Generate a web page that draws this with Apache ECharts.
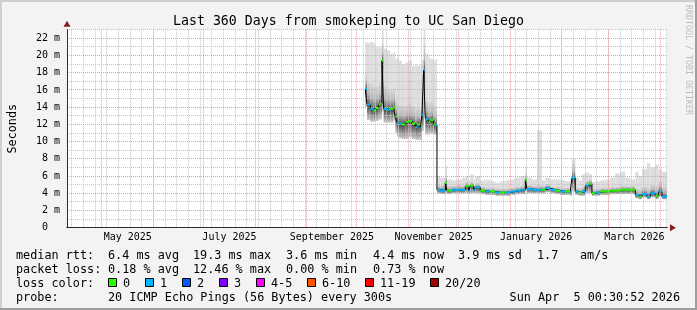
<!DOCTYPE html>
<html><head><meta charset="utf-8">
<script src="https://cdn.jsdelivr.net/npm/echarts@6/dist/echarts.min.js"></script>
<style>html,body{margin:0;padding:0;background:#f3f3f3}#c{width:697px;height:310px}</style>
</head><body><div id="c"></div><script>
// ---------- data ----------
const dates = ['2025-10-06','2025-10-07','2025-10-09','2025-10-11','2025-10-12','2025-10-14','2025-10-15','2025-10-16','2025-10-17','2025-10-19','2025-10-21','2025-10-23','2025-10-24','2025-10-25','2025-10-26','2025-10-28','2025-10-30','2025-11-01','2025-11-03','2025-11-05','2025-11-06','2025-11-08','2025-11-09','2025-11-10','2025-11-11','2025-11-13','2025-11-14','2025-11-16','2025-11-17',
'2025-11-18','2025-11-20','2025-11-23','2025-11-24','2025-11-27','2025-11-30','2025-12-03','2025-12-05','2025-12-07','2025-12-08','2025-12-10','2025-12-11','2025-12-14','2025-12-17','2025-12-20','2025-12-23','2025-12-26','2025-12-29','2026-01-01','2026-01-04','2026-01-07','2026-01-10','2026-01-11','2026-01-14','2026-01-17','2026-01-20','2026-01-22','2026-01-25','2026-01-28','2026-01-31','2026-02-03','2026-02-06','2026-02-07','2026-02-09','2026-02-11','2026-02-13','2026-02-15','2026-02-17','2026-02-19','2026-02-21','2026-02-24','2026-02-27','2026-03-02','2026-03-05','2026-03-08','2026-03-11','2026-03-14','2026-03-17','2026-03-19','2026-03-21','2026-03-24','2026-03-26','2026-03-29','2026-03-31','2026-04-02'];
// median rtt (ms)
const median = [16.1,14.3,13.8,13.6,13.9,14.3,14.4,19.4,13.8,13.7,13.8,14.0,12.9,12.2,12.1,12.0,12.3,12.4,12.1,11.7,12.0,11.6,13.1,18.3,12.6,12.3,12.5,12.0,11.9,
4.4,4.3,5.2,4.3,4.4,4.4,4.4,4.8,4.3,4.9,4.4,4.7,4.3,4.2,4.2,4.1,4.1,4.1,4.2,4.3,4.4,5.5,4.5,4.4,4.4,4.4,4.6,4.4,4.3,4.2,4.2,4.1,5.8,4.2,4.1,4.2,4.9,5.1,4.0,4.1,4.2,4.2,4.3,4.3,4.4,4.4,4.4,3.8,3.6,3.9,3.6,4.0,3.7,4.2,3.6];
// lowest ping (ms)
const pingMin = [14.0,12.5,12.3,12.3,12.4,12.5,12.6,13.5,12.2,12.2,12.2,12.4,11.0,10.6,10.4,10.3,10.3,10.5,10.3,10.2,10.2,10.2,11.2,13.0,10.8,10.8,10.9,10.8,10.8,
4.0,3.9,4.0,3.9,4.0,4.0,4.0,4.0,3.9,4.0,4.0,4.0,3.9,3.8,3.8,3.7,3.7,3.7,3.8,3.9,3.9,4.2,4.0,4.0,4.0,4.0,4.1,4.0,3.9,3.8,3.8,3.7,4.2,3.8,3.7,3.7,4.0,4.0,3.7,3.7,3.8,3.8,3.9,3.9,3.9,3.9,3.9,3.4,3.3,3.5,3.3,3.5,3.3,3.6,3.3];
// upper dense smoke edge (ms)
const pingHigh = [18.0,17.0,16.8,16.5,16.5,16.8,17.0,21.5,16.5,16.2,16.0,16.2,15.0,14.5,14.3,14.2,14.3,14.5,14.2,14.0,14.0,13.8,15.0,21.5,14.8,14.5,14.6,14.3,14.2,
5.0,5.0,6.2,4.9,4.9,5.0,4.9,5.4,4.8,5.4,4.9,5.2,4.8,4.7,4.7,4.6,4.6,4.6,4.7,4.8,4.9,6.4,5.0,4.9,5.0,4.9,5.1,4.8,4.8,4.7,4.7,4.6,7.5,4.7,4.6,4.8,5.5,5.6,4.5,4.6,4.7,4.7,4.8,4.8,4.9,4.9,4.9,4.6,4.5,4.8,4.6,5.0,4.9,5.5,4.8];
// highest ping (ms)
const pingMax = [21.5,21.5,21.6,21.4,21.0,20.9,21.0,23.5,20.8,20.6,20.2,20.4,19.6,19.8,19.4,19.0,19.2,19.4,18.8,19.0,18.8,19.0,19.5,23.5,20.2,19.8,19.6,19.4,19.6,
6.0,5.8,7.2,5.6,5.5,5.6,5.8,6.0,5.6,6.2,5.6,6.0,5.5,5.6,5.4,5.2,5.4,5.5,5.6,5.8,6.0,7.0,5.8,5.6,11.3,5.5,5.8,5.6,5.6,5.5,5.4,5.6,8.0,5.8,5.5,6.2,6.4,6.2,5.3,5.4,5.5,5.6,5.8,6.3,6.5,5.8,5.6,6.5,6.0,6.8,7.5,7.0,7.3,6.8,6.5];
// loss bucket index (0 = no loss, 1 = one lost ping)
const loss = [1,1,1,0,0,0,0,0,1,1,0,0,0,1,1,0,0,0,0,1,0,1,1,1,1,0,0,0,1,
1,1,0,0,1,1,1,0,1,0,1,1,0,1,0,1,0,1,1,1,1,0,1,1,1,0,1,1,0,1,0,1,1,1,0,1,1,0,0,1,0,0,0,0,0,0,0,1,0,1,1,1,0,1,1];

const monthStarts = ['2025-05-01','2025-06-01','2025-07-01','2025-08-01','2025-09-01','2025-10-01','2025-11-01','2025-12-01','2026-01-01','2026-02-01','2026-03-01','2026-04-01'];
const xLabels = ['May 2025','July 2025','September 2025','November 2025','January 2026','March 2026'];
const xLabelMonth = ['2025-05-01','2025-07-01','2025-09-01','2025-11-01','2026-01-01','2026-03-01'];
const xLabelNext  = ['2025-06-01','2025-08-01','2025-10-01','2025-12-01','2026-02-01','2026-04-01'];
const firstSunday = '2025-04-13';
const yMajor = [2,4,6,8,10,12,14,16,18,20,22];
const yMinor = [1,3,5,7,9,11,13,15,17,19,21,23];

const lossNames  = ['0','1','2','3','4-5','6-10','11-19','20/20'];
const lossColors = ['#26ff00','#00b8ff','#0059ff','#7e00ff','#ff00ff','#ff5500','#ff0000','#a00000'];

const titleText = 'Last 360 Days from smokeping to UC San Diego';
const rowMedian = ['median rtt:','6.4 ms avg','19.3 ms max','3.6 ms min','4.4 ms now','3.9 ms sd','1.7','am/s'];
const rowLoss   = ['packet loss:','0.18 % avg','12.46 % max','0.00 % min','0.73 % now'];
const probeText = ['probe:','20 ICMP Echo Pings (56 Bytes) every 300s'];
const stampText = 'Sun Apr  5 00:30:52 2026';

// ---------- build ----------
const T = s => Date.parse(s + 'T00:00:00Z');
const startTs = Date.UTC(2025,3,10,0,30,52), endTs = Date.UTC(2026,3,5,0,30,52);
const ts = dates.map(T);
const nextTs = ts.map((t,i) => i < ts.length-1 ? ts[i+1] : endTs);
const smokeData = ts.map((t,i) => [t, nextTs[i], pingMin[i], median[i], pingHigh[i], pingMax[i]]);
const segData = ts.map((t,i) => [t, nextTs[i], median[i], loss[i]]);
const lineData = ts.map((t,i) => [t, median[i]]).concat([[endTs, median[median.length-1]]]);
const weeks = []; for (let t = T(firstSunday); t < endTs; t += 7*86400000) weeks.push(t);
const monthVals = monthStarts.map(T);
const labelVals = xLabelMonth.map((m,i) => (T(m) + T(xLabelNext[i]))/2);
const labelMap = {}; labelVals.forEach((v,i) => labelMap[v] = xLabels[i]);
// grid line table: [x value, y value, kind]  kind 0 week, 1 month, 2 minor y, 3 major y
const gridData = weeks.map(v => [v, 0, 0])
  .concat(yMinor.map(v => [startTs, v, 2]))
  .concat(monthVals.map(v => [v, 0, 1]))
  .concat(yMajor.map(v => [startTs, v, 3]));

const MONO = '"DejaVu Sans Mono", monospace';
const GRAY = '#c4c4c4', RED = '#f29a9a';
const AXISC = '#2c2c2c', ARROW = '#7f1f1f';

function gridItem(params, api) {
  const cs = params.coordSys;
  const kind = api.value(2);
  const color = (kind === 1 || kind === 3) ? RED : GRAY;
  const style = {stroke:color, lineWidth:1, lineDash:[1,1]};
  if (kind < 2) {
    const x = Math.round(api.coord([api.value(0), 0])[0] - 0.5) + 0.5;
    return {type:'line', z2:kind, shape:{x1:x, y1:cs.y, x2:x, y2:cs.y + cs.height}, style};
  }
  const y = Math.round(api.coord([startTs, api.value(1)])[1] - 0.5) + 0.5;
  return {type:'line', z2:kind, shape:{x1:cs.x, y1:y, x2:cs.x + cs.width, y2:y}, style};
}
function smoke(params, api) {
  const cs = params.coordSys;
  const x0 = api.coord([api.value(0), 0])[0];
  const x1 = api.coord([api.value(1), 0])[0];
  const yv = i => Math.max(cs.y, api.coord([api.value(0), api.value(i)])[1]);
  const yLo = yv(2), yMd = yv(3), yHi = yv(4), yMx = yv(5);
  const w = x1 - x0;
  const G = echarts.graphic.LinearGradient;
  return {type:'group', children:[
    {type:'rect', shape:{x:x0, y:yMx, width:w, height:yHi-yMx}, style:{fill:'#dddddd'}},
    {type:'rect', shape:{x:x0, y:yHi, width:w, height:yMd-yHi}, style:{fill:new G(0,0,0,1,[{offset:0,color:'#d6d6d6'},{offset:0.55,color:'#b8b8b8'},{offset:1,color:'#5a5a5a'}])}},
    {type:'rect', shape:{x:x0, y:yMd, width:w, height:yLo-yMd}, style:{fill:new G(0,0,0,1,[{offset:0,color:'#404040'},{offset:0.5,color:'#8a8a8a'},{offset:1,color:'#cccccc'}])}}
  ]};
}
function medSeg(params, api) {
  const p0 = api.coord([api.value(0), api.value(2)]);
  const x1 = api.coord([api.value(1), api.value(2)])[0];
  return {type:'rect', shape:{x:p0[0], y:p0[1]-1, width:x1-p0[0], height:2}, style:{fill:lossColors[api.value(3)]}};
}

const baseX = {type:'value', min:startTs, max:endTs, position:'bottom', axisLine:{show:false, onZero:false}, axisLabel:{show:false}, axisTick:{show:false}, splitLine:{show:false}};
const baseY = {type:'value', min:0, max:23, position:'left', axisLine:{show:false, onZero:false}, axisLabel:{show:false}, axisTick:{show:false}, splitLine:{show:false}};

const graphics = [];
const txt = (x, y, text, extra) => graphics.push(Object.assign({type:'text', x, y, style:Object.assign({text, font:'11.8px ' + MONO, fill:'#000', verticalAlign:'middle', align:'left'}, (extra||{}))}));
// frame
graphics.push({type:'rect', shape:{x:0,y:0,width:697,height:2}, style:{fill:'#cfcfcf'}});
graphics.push({type:'rect', shape:{x:0,y:0,width:2,height:310}, style:{fill:'#cfcfcf'}});
graphics.push({type:'rect', shape:{x:0,y:308,width:697,height:2}, style:{fill:'#9e9e9e'}});
graphics.push({type:'rect', shape:{x:695,y:0,width:2,height:310}, style:{fill:'#9e9e9e'}});
const colX = [16,108,193,286,373,458,537,580];
rowMedian.forEach((s,i) => txt(colX[i], 255.5, s));
rowLoss.forEach((s,i) => txt(colX[i], 269.5, s));
txt(16, 283.5, 'loss color:');
const boxX = [108,145,182,219,256,307,365,430];
lossNames.forEach((s,i) => {
  graphics.push({type:'rect', shape:{x:boxX[i]+0.5, y:278.5, width:8, height:8}, style:{fill:lossColors[i], stroke:'#000', lineWidth:1}});
  txt(boxX[i]+15, 283.5, s);
});
txt(16, 297.5, probeText[0]);
txt(108, 297.5, probeText[1]);
txt(680, 297.5, stampText, {align:'right'});
graphics.push({type:'text', x:688, y:5, rotation:-Math.PI/2, style:{text:'RRDTOOL / TOBI OETIKER', font:'8.3px ' + MONO, fill:'#bdbdbd', align:'left', verticalAlign:'middle'}});

const chart = echarts.init(document.getElementById('c'), null, {renderer:'canvas'});
chart.setOption({
  animation:false,
  backgroundColor:'#f3f3f3',
  title:{text:titleText, left:'center', top:10, textStyle:{fontFamily:MONO, fontSize:13.25, fontWeight:'normal', color:'#000'}},
  grid:{left:67, top:29.7, width:600, height:198, show:true, backgroundColor:'#fff', borderWidth:0, containLabel:false, outerBoundsMode:'none'},
  xAxis:[
    Object.assign({}, baseX, {z:3, axisLine:{show:true, onZero:false, symbol:['none','triangle'], symbolSize:[7,6], symbolOffset:[0,6], lineStyle:{color:ARROW, width:1}}}),
    Object.assign({}, baseX, {z:4, axisLine:{show:true, onZero:false, lineStyle:{color:AXISC, width:1}}, axisTick:{show:false, customValues:labelVals}, axisLabel:{show:true, customValues:labelVals, margin:5, fontFamily:MONO, fontSize:10, color:'#000', formatter:v => labelMap[v] || ''}})
  ],
  yAxis:[
    Object.assign({}, baseY, {z:3, axisLine:{show:true, onZero:false, symbol:['none','triangle'], symbolSize:[7,6], symbolOffset:[0,6], lineStyle:{color:ARROW, width:1}}}),
    Object.assign({}, baseY, {z:4, interval:2, axisLine:{show:true, onZero:false, lineStyle:{color:AXISC, width:1}},
      name:'Seconds', nameLocation:'middle', nameGap:48, nameRotate:90, nameTextStyle:{fontFamily:MONO, fontSize:11.8, color:'#000'},
      axisLabel:{show:true, showMaxLabel:false, margin:7, fontFamily:MONO, fontSize:10, color:'#000', formatter:v => v === 0 ? '0  ' : v + ' m'}})
  ],
  series:[
    {type:'custom', name:'smoke', xAxisIndex:1, yAxisIndex:1, z:0, renderItem:smoke, encode:{x:[0,1], y:[2,5]}, data:smokeData, silent:true},
    {type:'custom', name:'grid', xAxisIndex:1, yAxisIndex:1, z:1, renderItem:gridItem, encode:{x:0, y:1}, data:gridData, silent:true, clip:false},
    {type:'line', name:'median', xAxisIndex:1, yAxisIndex:1, z:5, step:'end', showSymbol:false, data:lineData, lineStyle:{color:'#000', width:1}, silent:true},
    {type:'custom', name:'loss', xAxisIndex:1, yAxisIndex:1, z:6, renderItem:medSeg, encode:{x:[0,1], y:2}, data:segData, silent:true}
  ],
  graphic:graphics
});
</script></body></html>
